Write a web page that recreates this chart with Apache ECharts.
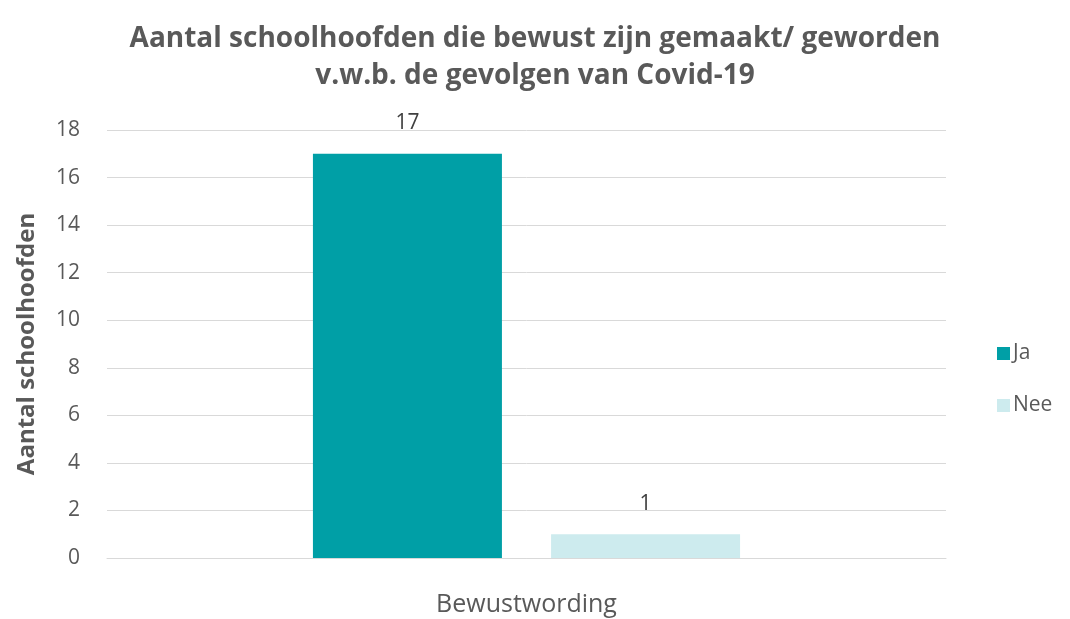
<!DOCTYPE html>
<html><head><meta charset="utf-8">
<script src="https://cdn.jsdelivr.net/npm/echarts@6/dist/echarts.min.js"></script>
<style>html,body{margin:0;padding:0;background:#fff}#c{width:1070px;height:619px}</style>
</head><body><div id="c"></div>
<script>
const categories = ['Bewustwording'];
const seriesNames = ['Ja', 'Nee'];
const jaValues = [17];
const neeValues = [1];
const yTicks = [0, 2, 4, 6, 8, 10, 12, 14, 16, 18];

const FONT = '"Open Sans", sans-serif';
const chart = echarts.init(document.getElementById('c'));
chart.setOption({
  backgroundColor: '#fff',
  animation: false,
  title: {
    text: 'Aantal schoolhoofden die bewust zijn gemaakt/ geworden\nv.w.b. de gevolgen van Covid-19',
    left: 530, top: 16, textAlign: 'center',
    textStyle: { fontFamily: FONT, fontSize: 28, fontWeight: 'bold', color: '#595959', lineHeight: 37 }
  },
  legend: {
    orient: 'vertical', left: 992, top: 338, itemGap: 31,
    itemWidth: 13, itemHeight: 13, icon: 'rect',
    textStyle: { fontFamily: FONT, fontSize: 21, color: '#595959', padding: [0, 0, 0, -2] },
    data: seriesNames
  },
  grid: { left: 107, right: 124, top: 130, bottom: 61, containLabel: false },
  xAxis: {
    type: 'category', data: categories,
    axisLine: { show: true, lineStyle: { color: '#d9d9d9' } },
    axisTick: { show: false },
    axisLabel: { fontFamily: FONT, fontSize: 25, color: '#595959', margin: 34 }
  },
  yAxis: {
    type: 'value', min: yTicks[0], max: yTicks[yTicks.length - 1], interval: 2,
    name: 'Aantal schoolhoofden', nameLocation: 'middle', nameGap: 68, nameRotate: 90,
    nameTextStyle: { fontFamily: FONT, fontSize: 24, fontWeight: 'bold', color: '#595959' },
    axisLine: { show: false }, axisTick: { show: false },
    axisLabel: { fontFamily: FONT, fontSize: 21, color: '#595959', margin: 27 },
    splitLine: { lineStyle: { color: '#d9d9d9', width: 1 } }
  },
  series: [
    { name: seriesNames[0], type: 'bar', data: jaValues, barWidth: 189, barGap: '26%',
      itemStyle: { color: '#009FA6' },
      label: { show: true, position: 'top', distance: 20, fontFamily: FONT, fontSize: 21, color: '#404040' } },
    { name: seriesNames[1], type: 'bar', data: neeValues, barWidth: 189,
      itemStyle: { color: '#CDEBEE' },
      label: { show: true, position: 'top', distance: 20, fontFamily: FONT, fontSize: 21, color: '#404040' } }
  ]
});
</script></body></html>
